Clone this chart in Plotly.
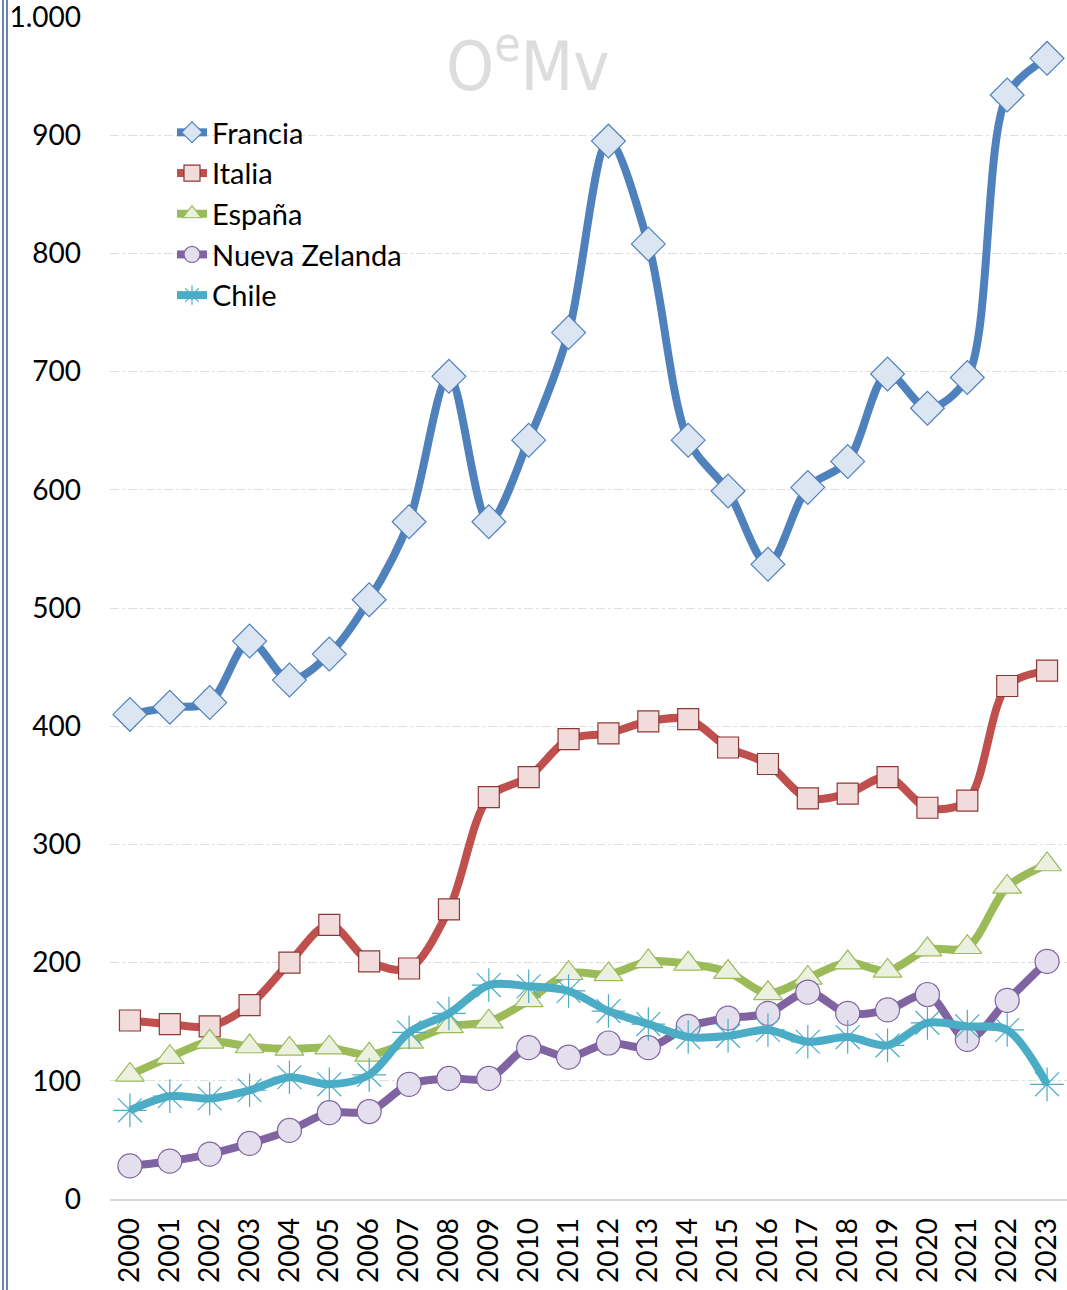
import plotly.graph_objects as go

years = [str(y) for y in range(2000, 2024)]
francia = [410, 416, 420, 472, 439, 461, 507, 573, 696, 573, 642, 733, 895, 808, 642, 599, 537, 602, 624, 698, 669, 695, 934, 965]
italia = [151, 148, 146, 164, 200, 232, 201, 195, 245, 340, 357, 389, 394, 404, 406, 382, 368, 339, 343, 357, 331, 337, 434, 447]
espana = [105, 120, 133, 129, 127, 128, 122, 133, 146, 150, 168, 191, 190, 201, 199, 192, 174, 187, 200, 193, 211, 213, 264, 283]
nz = [28, 32, 38, 47, 58, 73, 74, 97, 102, 102, 128, 120, 132, 128, 146, 153, 157, 175, 157, 160, 173, 135, 168, 201]
chile = [75, 87, 85, 92, 103, 97, 105, 141, 157, 181, 180, 176, 159, 148, 137, 138, 143, 133, 137, 130, 149, 146, 143, 97]
y_ticks = [0, 100, 200, 300, 400, 500, 600, 700, 800, 900, 1000]

series = [
    ("Francia", francia, "#4f81bd", "diamond", "#dce6f2", "#4f81bd", 26),
    ("Italia", italia, "#c0504d", "square", "#f2dcdb", "#8c3836", 21),
    ("España", espana, "#9bbb59", "triangle-up", "#ebf1de", "#9bbb59", 25),
    ("Nueva Zelanda", nz, "#8064a2", "circle", "#e4dfec", "#8064a2", 24),
]

fig = go.Figure()
for name, vals, lc, sym, fc, bc, sz in series:
    fig.add_trace(go.Scatter(
        x=years, y=vals, name=name, mode="lines+markers",
        line=dict(color=lc, width=8, shape="spline", smoothing=0.9),
        marker=dict(symbol=sym, size=sz, color=fc, line=dict(color=bc, width=1.2)),
    ))
fig.add_trace(go.Scatter(
    x=years, y=chile, name="Chile", mode="lines+markers",
    line=dict(color="#4bacc6", width=8, shape="spline", smoothing=0.9),
    marker=dict(symbol="asterisk-open", size=28, color="#4bacc6", line=dict(color="#4bacc6", width=1.2)),
))

FONT = "Lato, Carlito, Calibri, sans-serif"
L, R, T, B = 110, 0, 17, 91
W, H = 1067, 1290
pw = W - L - R
ph = H - T - B

def px_to_paper_x(px):
    return (px - L) / pw

def px_to_paper_y(py):
    return (H - B - py) / ph

shapes = []
for xx, wdt in [(3, 1.5), (7, 1.5)]:
    shapes.append(dict(type="line", xref="paper", yref="paper",
                       x0=px_to_paper_x(xx), x1=px_to_paper_x(xx),
                       y0=px_to_paper_y(H), y1=px_to_paper_y(0),
                       line=dict(color="#3a5a96", width=wdt)))

fig.update_layout(
    width=W, height=H,
    margin=dict(l=L, r=R, t=T, b=B, autoexpand=False),
    paper_bgcolor="white", plot_bgcolor="white",
    separators=",.",
    font=dict(family=FONT, size=28, color="black"),
    showlegend=True,
    legend=dict(x=px_to_paper_x(172), y=px_to_paper_y(107), xanchor="left", yanchor="top",
                bgcolor="rgba(0,0,0,0)", font=dict(size=29, family=FONT),
                itemwidth=30, tracegroupgap=0),
    shapes=shapes,
    annotations=[dict(text="O<sup>e</sup>Mv", xref="paper", yref="paper",
                      x=px_to_paper_x(528), y=px_to_paper_y(62),
                      xanchor="center", yanchor="middle",
                      showarrow=False,
                      font=dict(size=68, color="#dddddd",
                                family="DejaVu Sans Condensed, Liberation Sans Narrow, Liberation Sans"))],
    xaxis=dict(type="category", range=[-0.5, 23.5], tickangle=-90, automargin=False,
               showgrid=False, showline=True, linecolor="#d9d9d9", linewidth=1.5,
               ticks="", tickfont=dict(size=28, family=FONT), ticklabelstandoff=6, zeroline=False),
    yaxis=dict(range=[0, 1000], tickvals=y_ticks, tickformat=",d", automargin=False,
               ticklabeloverflow="allow",
               showgrid=True, gridcolor="#dedede", griddash="dashdot", gridwidth=1,
               zeroline=False, showline=False, ticks="",
               tickfont=dict(size=28, family=FONT), ticklabelstandoff=28),
)

fig.write_html("out.html", config={"displayModeBar": False},
               post_script="document.body.style.margin='0';document.body.style.overflow='hidden';")
